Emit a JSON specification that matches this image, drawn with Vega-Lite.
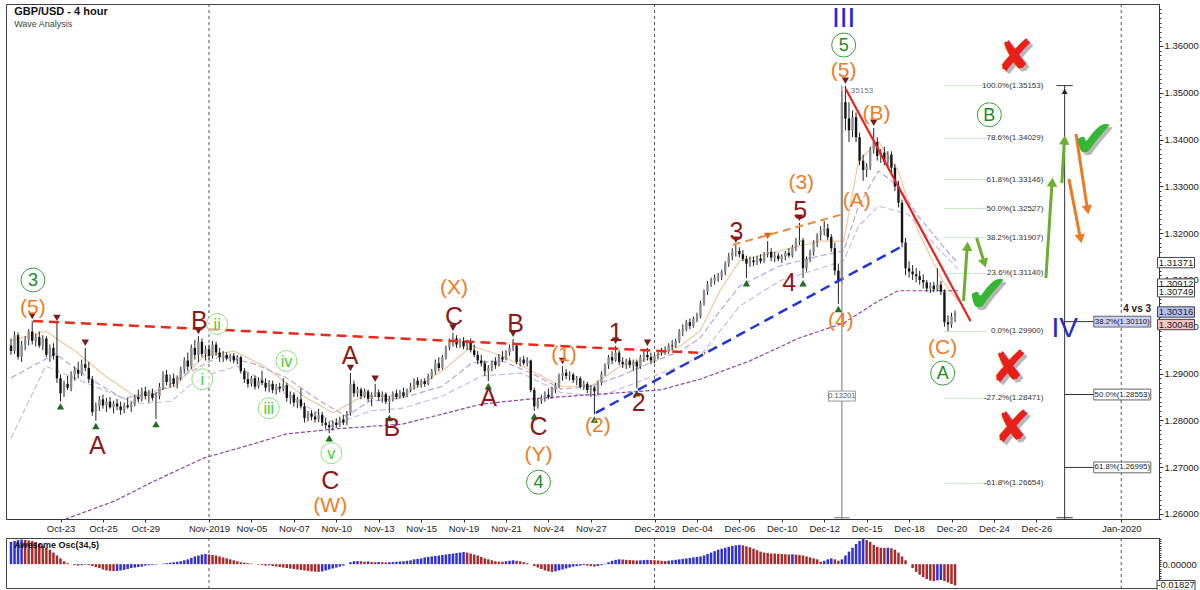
{
"$schema":"https://vega.github.io/schema/vega-lite/v6.json",
"background":"white",
"padding":{"left":5,"top":3,"right":0,"bottom":0},
"spacing":0,
"config":{"view":{"stroke":"#444","strokeWidth":1},"axis":{"domainColor":"#333","tickColor":"#333","labelColor":"#222","labelFont":"Liberation Sans","labelFontSize":9.5},"text":{"font":"Liberation Sans"}},
"datasets":{
"k":[
{"i":0,"o":1.296,"h":1.2975,"l":1.294,"c":1.2948,"a":0.01909},
{"i":1,"o":1.2948,"h":1.299,"l":1.2942,"c":1.2982,"a":0.01992},
{"i":2,"o":1.2982,"h":1.2988,"l":1.293,"c":1.2936,"a":0.02075},
{"i":3,"o":1.2936,"h":1.297,"l":1.2925,"c":1.2962,"a":0.02117},
{"i":4,"o":1.2962,"h":1.298,"l":1.295,"c":1.2972,"a":0.02075},
{"i":5,"o":1.2972,"h":1.2995,"l":1.296,"c":1.299,"a":0.02034},
{"i":6,"o":1.299,"h":1.3012,"l":1.2962,"c":1.297,"a":0.01992},
{"i":7,"o":1.297,"h":1.2985,"l":1.2958,"c":1.2978,"a":0.01909},
{"i":8,"o":1.2978,"h":1.299,"l":1.2955,"c":1.296,"a":0.01743},
{"i":9,"o":1.296,"h":1.2982,"l":1.295,"c":1.2975,"a":0.01577},
{"i":10,"o":1.2975,"h":1.298,"l":1.2935,"c":1.294,"a":0.01411},
{"i":11,"o":1.294,"h":1.2962,"l":1.2925,"c":1.2955,"a":0.01245},
{"i":12,"o":1.2955,"h":1.2965,"l":1.293,"c":1.2938,"a":0.00996},
{"i":13,"o":1.2938,"h":1.3008,"l":1.288,"c":1.289,"a":0.00747},
{"i":14,"o":1.289,"h":1.2898,"l":1.2841,"c":1.2858,"a":0.00498},
{"i":15,"o":1.2858,"h":1.2885,"l":1.285,"c":1.2878,"a":0.00249},
{"i":16,"o":1.2878,"h":1.2895,"l":1.2865,"c":1.287,"a":0.00083},
{"i":17,"o":1.287,"h":1.2905,"l":1.2862,"c":1.2898,"a":0},
{"i":18,"o":1.2898,"h":1.2915,"l":1.2885,"c":1.2908,"a":-0.00083},
{"i":19,"o":1.2908,"h":1.2925,"l":1.289,"c":1.29,"a":-0.00125},
{"i":20,"o":1.29,"h":1.293,"l":1.2895,"c":1.292,"a":-0.00083},
{"i":21,"o":1.292,"h":1.2955,"l":1.2905,"c":1.2912,"a":-0.00042},
{"i":22,"o":1.2912,"h":1.2925,"l":1.288,"c":1.2888,"a":-0.00083},
{"i":23,"o":1.2888,"h":1.2895,"l":1.281,"c":1.2818,"a":-0.00166},
{"i":24,"o":1.2818,"h":1.2838,"l":1.2799,"c":1.283,"a":-0.00249},
{"i":25,"o":1.283,"h":1.2852,"l":1.282,"c":1.2845,"a":-0.00332},
{"i":26,"o":1.2845,"h":1.2855,"l":1.2825,"c":1.2832,"a":-0.00457},
{"i":27,"o":1.2832,"h":1.2848,"l":1.2818,"c":1.284,"a":-0.0054},
{"i":28,"o":1.284,"h":1.285,"l":1.2825,"c":1.2828,"a":-0.00581},
{"i":29,"o":1.2828,"h":1.2842,"l":1.2815,"c":1.2836,"a":-0.00598},
{"i":30,"o":1.2836,"h":1.2846,"l":1.2822,"c":1.283,"a":-0.00581},
{"i":31,"o":1.283,"h":1.284,"l":1.2812,"c":1.2822,"a":-0.0054},
{"i":32,"o":1.2822,"h":1.2838,"l":1.2815,"c":1.2832,"a":-0.00498},
{"i":33,"o":1.2832,"h":1.2848,"l":1.2825,"c":1.2828,"a":-0.00415},
{"i":34,"o":1.2828,"h":1.284,"l":1.2818,"c":1.2835,"a":-0.00332},
{"i":35,"o":1.2835,"h":1.2855,"l":1.283,"c":1.285,"a":-0.00291},
{"i":36,"o":1.285,"h":1.2866,"l":1.2838,"c":1.2845,"a":-0.00249},
{"i":37,"o":1.2845,"h":1.287,"l":1.284,"c":1.2862,"a":-0.00208},
{"i":38,"o":1.2862,"h":1.2872,"l":1.2845,"c":1.2852,"a":-0.00125},
{"i":39,"o":1.2852,"h":1.2865,"l":1.2838,"c":1.2858,"a":-0.00083},
{"i":40,"o":1.2858,"h":1.2868,"l":1.2842,"c":1.2848,"a":-0.00066},
{"i":41,"o":1.2848,"h":1.286,"l":1.2803,"c":1.2852,"a":-0.00042},
{"i":42,"o":1.2852,"h":1.288,"l":1.2845,"c":1.2872,"a":0},
{"i":43,"o":1.2872,"h":1.2905,"l":1.2865,"c":1.2898,"a":0.00042},
{"i":44,"o":1.2898,"h":1.2908,"l":1.2875,"c":1.2882,"a":0.00083},
{"i":45,"o":1.2882,"h":1.2898,"l":1.287,"c":1.289,"a":0.00125},
{"i":46,"o":1.289,"h":1.29,"l":1.2872,"c":1.2878,"a":0.00166},
{"i":47,"o":1.2878,"h":1.2896,"l":1.2868,"c":1.2892,"a":0.00208},
{"i":48,"o":1.2892,"h":1.2915,"l":1.2885,"c":1.291,"a":0.00249},
{"i":49,"o":1.291,"h":1.2935,"l":1.29,"c":1.2928,"a":0.00332},
{"i":50,"o":1.2928,"h":1.2945,"l":1.2905,"c":1.2915,"a":0.00415},
{"i":51,"o":1.2915,"h":1.2962,"l":1.291,"c":1.2955,"a":0.0054},
{"i":52,"o":1.2955,"h":1.2972,"l":1.293,"c":1.294,"a":0.00664},
{"i":53,"o":1.294,"h":1.298,"l":1.2925,"c":1.2968,"a":0.00747},
{"i":54,"o":1.2968,"h":1.2975,"l":1.2935,"c":1.2942,"a":0.0083},
{"i":55,"o":1.2942,"h":1.296,"l":1.2928,"c":1.2952,"a":0.00872},
{"i":56,"o":1.2952,"h":1.2962,"l":1.293,"c":1.2938,"a":0.0083},
{"i":57,"o":1.2938,"h":1.297,"l":1.2932,"c":1.2962,"a":0.00789},
{"i":58,"o":1.2962,"h":1.2968,"l":1.2938,"c":1.2945,"a":0.00747},
{"i":59,"o":1.2945,"h":1.2955,"l":1.2925,"c":1.2935,"a":0.00664},
{"i":60,"o":1.2935,"h":1.2948,"l":1.2925,"c":1.294,"a":0.00581},
{"i":61,"o":1.294,"h":1.2945,"l":1.2928,"c":1.2932,"a":0.00498},
{"i":62,"o":1.2932,"h":1.2942,"l":1.2925,"c":1.2938,"a":0.00415},
{"i":63,"o":1.2938,"h":1.2944,"l":1.2922,"c":1.2928,"a":0.00332},
{"i":64,"o":1.2928,"h":1.294,"l":1.292,"c":1.2935,"a":0.00249},
{"i":65,"o":1.2935,"h":1.2938,"l":1.29,"c":1.2905,"a":0.00166},
{"i":66,"o":1.2905,"h":1.2912,"l":1.288,"c":1.2888,"a":0.00125},
{"i":67,"o":1.2888,"h":1.2902,"l":1.287,"c":1.2878,"a":0.00083},
{"i":68,"o":1.2878,"h":1.2895,"l":1.2872,"c":1.289,"a":0.00042},
{"i":69,"o":1.289,"h":1.2896,"l":1.2866,"c":1.2872,"a":0},
{"i":70,"o":1.2872,"h":1.2892,"l":1.2868,"c":1.2885,"a":-0.00042},
{"i":71,"o":1.2885,"h":1.2906,"l":1.2875,"c":1.288,"a":-0.00083},
{"i":72,"o":1.288,"h":1.289,"l":1.2862,"c":1.287,"a":-0.00125},
{"i":73,"o":1.287,"h":1.2886,"l":1.286,"c":1.2878,"a":-0.001},
{"i":74,"o":1.2878,"h":1.2885,"l":1.2858,"c":1.2865,"a":-0.00166},
{"i":75,"o":1.2865,"h":1.2878,"l":1.2855,"c":1.2872,"a":-0.00208},
{"i":76,"o":1.2872,"h":1.288,"l":1.286,"c":1.2868,"a":-0.00249},
{"i":77,"o":1.2868,"h":1.289,"l":1.2862,"c":1.2875,"a":-0.00291},
{"i":78,"o":1.2875,"h":1.288,"l":1.284,"c":1.2848,"a":-0.00332},
{"i":79,"o":1.2848,"h":1.2862,"l":1.2835,"c":1.2855,"a":-0.00374},
{"i":80,"o":1.2855,"h":1.286,"l":1.283,"c":1.2838,"a":-0.00415},
{"i":81,"o":1.2838,"h":1.285,"l":1.2826,"c":1.2845,"a":-0.00457},
{"i":82,"o":1.2845,"h":1.2868,"l":1.2825,"c":1.283,"a":-0.00498},
{"i":83,"o":1.283,"h":1.2838,"l":1.2795,"c":1.2805,"a":-0.0054},
{"i":84,"o":1.2805,"h":1.282,"l":1.2798,"c":1.2815,"a":-0.00581},
{"i":85,"o":1.2815,"h":1.2822,"l":1.28,"c":1.2808,"a":-0.00623},
{"i":86,"o":1.2808,"h":1.2818,"l":1.2795,"c":1.2802,"a":-0.00647},
{"i":87,"o":1.2802,"h":1.2825,"l":1.2796,"c":1.2812,"a":-0.00664},
{"i":88,"o":1.2812,"h":1.2818,"l":1.2788,"c":1.2795,"a":-0.00623},
{"i":89,"o":1.2795,"h":1.2805,"l":1.2782,"c":1.279,"a":-0.0054},
{"i":90,"o":1.279,"h":1.2798,"l":1.2773,"c":1.2785,"a":-0.00457},
{"i":91,"o":1.2785,"h":1.28,"l":1.2778,"c":1.2795,"a":-0.00374},
{"i":92,"o":1.2795,"h":1.2805,"l":1.2784,"c":1.279,"a":-0.00291},
{"i":93,"o":1.279,"h":1.2808,"l":1.2786,"c":1.2802,"a":-0.00208},
{"i":94,"o":1.2802,"h":1.2812,"l":1.279,"c":1.2795,"a":-0.00125},
{"i":95,"o":1.2795,"h":1.282,"l":1.279,"c":1.2815,"a":0},
{"i":96,"o":1.2815,"h":1.2901,"l":1.281,"c":1.2878,"a":0.00166},
{"i":97,"o":1.2878,"h":1.2885,"l":1.285,"c":1.2858,"a":0.00249},
{"i":98,"o":1.2858,"h":1.2872,"l":1.285,"c":1.2866,"a":0.00266},
{"i":99,"o":1.2866,"h":1.287,"l":1.2845,"c":1.2852,"a":0.00249},
{"i":100,"o":1.2852,"h":1.2868,"l":1.2848,"c":1.2862,"a":0.00208},
{"i":101,"o":1.2862,"h":1.2866,"l":1.284,"c":1.2846,"a":0.00232},
{"i":102,"o":1.2846,"h":1.286,"l":1.283,"c":1.2855,"a":0.00183},
{"i":103,"o":1.2855,"h":1.2878,"l":1.285,"c":1.286,"a":0.00166},
{"i":104,"o":1.286,"h":1.2866,"l":1.2842,"c":1.285,"a":0.00191},
{"i":105,"o":1.285,"h":1.2862,"l":1.2838,"c":1.2856,"a":0.00166},
{"i":106,"o":1.2856,"h":1.286,"l":1.2835,"c":1.284,"a":0.00149},
{"i":107,"o":1.284,"h":1.2852,"l":1.2816,"c":1.2845,"a":0.00166},
{"i":108,"o":1.2845,"h":1.2862,"l":1.284,"c":1.2858,"a":0.00183},
{"i":109,"o":1.2858,"h":1.2866,"l":1.2845,"c":1.285,"a":0.00208},
{"i":110,"o":1.285,"h":1.2865,"l":1.2846,"c":1.286,"a":0.00232},
{"i":111,"o":1.286,"h":1.287,"l":1.2848,"c":1.2852,"a":0.00249},
{"i":112,"o":1.2852,"h":1.2868,"l":1.285,"c":1.2865,"a":0.00291},
{"i":113,"o":1.2865,"h":1.288,"l":1.286,"c":1.2872,"a":0.00332},
{"i":114,"o":1.2872,"h":1.289,"l":1.2866,"c":1.2885,"a":0.00415},
{"i":115,"o":1.2885,"h":1.2892,"l":1.287,"c":1.2876,"a":0.00457},
{"i":116,"o":1.2876,"h":1.2888,"l":1.287,"c":1.2884,"a":0.00498},
{"i":117,"o":1.2884,"h":1.289,"l":1.2872,"c":1.2878,"a":0.00581},
{"i":118,"o":1.2878,"h":1.29,"l":1.2875,"c":1.2895,"a":0.00623},
{"i":119,"o":1.2895,"h":1.291,"l":1.2888,"c":1.2905,"a":0.00664},
{"i":120,"o":1.2905,"h":1.293,"l":1.2898,"c":1.2922,"a":0.00706},
{"i":121,"o":1.2922,"h":1.2935,"l":1.2905,"c":1.2912,"a":0.00747},
{"i":122,"o":1.2912,"h":1.294,"l":1.2908,"c":1.2935,"a":0.00789},
{"i":123,"o":1.2935,"h":1.296,"l":1.293,"c":1.2955,"a":0.0083},
{"i":124,"o":1.2955,"h":1.2975,"l":1.295,"c":1.2968,"a":0.00872},
{"i":125,"o":1.2968,"h":1.2987,"l":1.2958,"c":1.2975,"a":0.00913},
{"i":126,"o":1.2975,"h":1.2982,"l":1.2955,"c":1.2962,"a":0.00955},
{"i":127,"o":1.2962,"h":1.2975,"l":1.2955,"c":1.297,"a":0.00996},
{"i":128,"o":1.297,"h":1.2978,"l":1.2952,"c":1.2958,"a":0.01038},
{"i":129,"o":1.2958,"h":1.2972,"l":1.295,"c":1.2966,"a":0.00996},
{"i":130,"o":1.2966,"h":1.2975,"l":1.2945,"c":1.295,"a":0.00913},
{"i":131,"o":1.295,"h":1.2962,"l":1.2935,"c":1.294,"a":0.0083},
{"i":132,"o":1.294,"h":1.2948,"l":1.292,"c":1.2928,"a":0.00747},
{"i":133,"o":1.2928,"h":1.294,"l":1.2915,"c":1.2922,"a":0.00623},
{"i":134,"o":1.2922,"h":1.2928,"l":1.2895,"c":1.2905,"a":0.00498},
{"i":135,"o":1.2905,"h":1.2918,"l":1.2884,"c":1.2912,"a":0.00415},
{"i":136,"o":1.2912,"h":1.2928,"l":1.2905,"c":1.2925,"a":0.00332},
{"i":137,"o":1.2925,"h":1.2935,"l":1.291,"c":1.2918,"a":0.00249},
{"i":138,"o":1.2918,"h":1.2942,"l":1.2915,"c":1.2935,"a":0.00208},
{"i":139,"o":1.2935,"h":1.2948,"l":1.2925,"c":1.293,"a":0.00208},
{"i":140,"o":1.293,"h":1.295,"l":1.2928,"c":1.2945,"a":0.00249},
{"i":141,"o":1.2945,"h":1.2962,"l":1.2938,"c":1.2955,"a":0.00291},
{"i":142,"o":1.2955,"h":1.2974,"l":1.2948,"c":1.296,"a":0.00332},
{"i":143,"o":1.296,"h":1.2965,"l":1.292,"c":1.2925,"a":0.00291},
{"i":144,"o":1.2925,"h":1.2935,"l":1.2915,"c":1.293,"a":0.00249},
{"i":145,"o":1.293,"h":1.2938,"l":1.2918,"c":1.2922,"a":0.00166},
{"i":146,"o":1.2922,"h":1.2935,"l":1.2915,"c":1.2928,"a":0.00083},
{"i":147,"o":1.2928,"h":1.293,"l":1.286,"c":1.2865,"a":0},
{"i":148,"o":1.2865,"h":1.287,"l":1.282,"c":1.283,"a":-0.00166},
{"i":149,"o":1.283,"h":1.2848,"l":1.2825,"c":1.2842,"a":-0.00291},
{"i":150,"o":1.2842,"h":1.2855,"l":1.2835,"c":1.2848,"a":-0.00415},
{"i":151,"o":1.2848,"h":1.2862,"l":1.284,"c":1.2855,"a":-0.0054},
{"i":152,"o":1.2855,"h":1.2868,"l":1.2845,"c":1.285,"a":-0.00623},
{"i":153,"o":1.285,"h":1.2872,"l":1.2846,"c":1.2866,"a":-0.00664},
{"i":154,"o":1.2866,"h":1.288,"l":1.2858,"c":1.2875,"a":-0.00623},
{"i":155,"o":1.2875,"h":1.29,"l":1.287,"c":1.2895,"a":-0.0054},
{"i":156,"o":1.2895,"h":1.2916,"l":1.2885,"c":1.2902,"a":-0.00457},
{"i":157,"o":1.2902,"h":1.291,"l":1.2888,"c":1.2895,"a":-0.00374},
{"i":158,"o":1.2895,"h":1.2905,"l":1.2885,"c":1.2898,"a":-0.00291},
{"i":159,"o":1.2898,"h":1.2902,"l":1.288,"c":1.2886,"a":-0.00208},
{"i":160,"o":1.2886,"h":1.2895,"l":1.2875,"c":1.289,"a":-0.00166},
{"i":161,"o":1.289,"h":1.2894,"l":1.2868,"c":1.2872,"a":-0.00125},
{"i":162,"o":1.2872,"h":1.2885,"l":1.2865,"c":1.2878,"a":-0.00083},
{"i":163,"o":1.2878,"h":1.2882,"l":1.2858,"c":1.2865,"a":-0.00125},
{"i":164,"o":1.2865,"h":1.2876,"l":1.285,"c":1.287,"a":-0.00166},
{"i":165,"o":1.287,"h":1.2874,"l":1.2813,"c":1.2862,"a":-0.00208},
{"i":166,"o":1.2862,"h":1.2885,"l":1.2855,"c":1.288,"a":-0.00166},
{"i":167,"o":1.288,"h":1.2905,"l":1.2875,"c":1.29,"a":-0.00083},
{"i":168,"o":1.29,"h":1.2922,"l":1.2895,"c":1.2918,"a":0.00042},
{"i":169,"o":1.2918,"h":1.294,"l":1.291,"c":1.2935,"a":0.00166},
{"i":170,"o":1.2935,"h":1.2948,"l":1.292,"c":1.2928,"a":0.00291},
{"i":171,"o":1.2928,"h":1.2959,"l":1.2925,"c":1.2945,"a":0.00374},
{"i":172,"o":1.2945,"h":1.295,"l":1.2918,"c":1.2925,"a":0.00415},
{"i":173,"o":1.2925,"h":1.2935,"l":1.2912,"c":1.292,"a":0.00398},
{"i":174,"o":1.292,"h":1.2932,"l":1.291,"c":1.2928,"a":0.00374},
{"i":175,"o":1.2928,"h":1.2934,"l":1.2912,"c":1.2918,"a":0.00349},
{"i":176,"o":1.2918,"h":1.293,"l":1.2905,"c":1.2925,"a":0.00332},
{"i":177,"o":1.2925,"h":1.293,"l":1.2869,"c":1.2915,"a":0.00315},
{"i":178,"o":1.2915,"h":1.294,"l":1.291,"c":1.2935,"a":0.00332},
{"i":179,"o":1.2935,"h":1.295,"l":1.2925,"c":1.294,"a":0.00349},
{"i":180,"o":1.294,"h":1.2955,"l":1.2928,"c":1.2935,"a":0.00374},
{"i":181,"o":1.2935,"h":1.2945,"l":1.292,"c":1.2928,"a":0.00357},
{"i":182,"o":1.2928,"h":1.2942,"l":1.2922,"c":1.2938,"a":0.0034},
{"i":183,"o":1.2938,"h":1.2948,"l":1.293,"c":1.2944,"a":0.00315},
{"i":184,"o":1.2944,"h":1.2955,"l":1.2938,"c":1.295,"a":0.00291},
{"i":185,"o":1.295,"h":1.2958,"l":1.294,"c":1.2946,"a":0.00274},
{"i":186,"o":1.2946,"h":1.2965,"l":1.2942,"c":1.296,"a":0.00299},
{"i":187,"o":1.296,"h":1.2972,"l":1.295,"c":1.2958,"a":0.00332},
{"i":188,"o":1.2958,"h":1.2975,"l":1.2955,"c":1.297,"a":0.00374},
{"i":189,"o":1.297,"h":1.2995,"l":1.2965,"c":1.299,"a":0.00415},
{"i":190,"o":1.299,"h":1.3005,"l":1.298,"c":1.2995,"a":0.00457},
{"i":191,"o":1.2995,"h":1.3015,"l":1.299,"c":1.301,"a":0.00498},
{"i":192,"o":1.301,"h":1.3018,"l":1.2995,"c":1.3002,"a":0.0054},
{"i":193,"o":1.3002,"h":1.3022,"l":1.2998,"c":1.3018,"a":0.00581},
{"i":194,"o":1.3018,"h":1.303,"l":1.301,"c":1.3022,"a":0.00623},
{"i":195,"o":1.3022,"h":1.3055,"l":1.3018,"c":1.305,"a":0.00664},
{"i":196,"o":1.305,"h":1.308,"l":1.3045,"c":1.3075,"a":0.00747},
{"i":197,"o":1.3075,"h":1.3098,"l":1.3068,"c":1.3092,"a":0.00872},
{"i":198,"o":1.3092,"h":1.3105,"l":1.3085,"c":1.3098,"a":0.00996},
{"i":199,"o":1.3098,"h":1.3112,"l":1.309,"c":1.3105,"a":0.01121},
{"i":200,"o":1.3105,"h":1.3115,"l":1.3096,"c":1.3108,"a":0.01245},
{"i":201,"o":1.3108,"h":1.3122,"l":1.31,"c":1.3118,"a":0.01328},
{"i":202,"o":1.3118,"h":1.314,"l":1.311,"c":1.3135,"a":0.01411},
{"i":203,"o":1.3135,"h":1.3158,"l":1.3128,"c":1.315,"a":0.01494},
{"i":204,"o":1.315,"h":1.3168,"l":1.3142,"c":1.316,"a":0.01577},
{"i":205,"o":1.316,"h":1.3175,"l":1.315,"c":1.3162,"a":0.01619},
{"i":206,"o":1.3162,"h":1.317,"l":1.3148,"c":1.3155,"a":0.0166},
{"i":207,"o":1.3155,"h":1.3164,"l":1.314,"c":1.3145,"a":0.01619},
{"i":208,"o":1.3145,"h":1.3152,"l":1.3104,"c":1.3135,"a":0.01536},
{"i":209,"o":1.3135,"h":1.315,"l":1.3128,"c":1.3142,"a":0.01453},
{"i":210,"o":1.3142,"h":1.315,"l":1.313,"c":1.3138,"a":0.01328},
{"i":211,"o":1.3138,"h":1.3152,"l":1.3132,"c":1.3146,"a":0.01204},
{"i":212,"o":1.3146,"h":1.3155,"l":1.3135,"c":1.314,"a":0.01079},
{"i":213,"o":1.314,"h":1.316,"l":1.3136,"c":1.3155,"a":0.00996},
{"i":214,"o":1.3155,"h":1.3183,"l":1.3148,"c":1.316,"a":0.00955},
{"i":215,"o":1.316,"h":1.3168,"l":1.314,"c":1.3148,"a":0.00913},
{"i":216,"o":1.3148,"h":1.316,"l":1.3138,"c":1.3152,"a":0.00913},
{"i":217,"o":1.3152,"h":1.3158,"l":1.314,"c":1.3145,"a":0.00896},
{"i":218,"o":1.3145,"h":1.3155,"l":1.3136,"c":1.315,"a":0.00872},
{"i":219,"o":1.315,"h":1.3162,"l":1.3142,"c":1.3158,"a":0.00855},
{"i":220,"o":1.3158,"h":1.3168,"l":1.3148,"c":1.3152,"a":0.0083},
{"i":221,"o":1.3152,"h":1.3175,"l":1.3148,"c":1.317,"a":0.00847},
{"i":222,"o":1.317,"h":1.319,"l":1.3162,"c":1.3182,"a":0.00813},
{"i":223,"o":1.3182,"h":1.3222,"l":1.3175,"c":1.3185,"a":0.00789},
{"i":224,"o":1.3185,"h":1.319,"l":1.3104,"c":1.3125,"a":0.00747},
{"i":225,"o":1.3125,"h":1.315,"l":1.3118,"c":1.3145,"a":0.00664},
{"i":226,"o":1.3145,"h":1.3165,"l":1.3138,"c":1.316,"a":0.00581},
{"i":227,"o":1.316,"h":1.3185,"l":1.3152,"c":1.318,"a":0.00498},
{"i":228,"o":1.318,"h":1.32,"l":1.317,"c":1.3195,"a":0.00415},
{"i":229,"o":1.3195,"h":1.3215,"l":1.3185,"c":1.3205,"a":0.00208},
{"i":230,"o":1.3205,"h":1.3226,"l":1.3195,"c":1.321,"a":0.00291},
{"i":231,"o":1.321,"h":1.322,"l":1.3185,"c":1.3192,"a":0.00415},
{"i":232,"o":1.3192,"h":1.3198,"l":1.316,"c":1.3168,"a":0.00498},
{"i":233,"o":1.3168,"h":1.318,"l":1.311,"c":1.312,"a":0.00415},
{"i":234,"o":1.312,"h":1.3135,"l":1.3049,"c":1.31,"a":0.00291},
{"i":235,"o":1.31,"h":1.3504,"l":1.3095,"c":1.348,"a":0.00415},
{"i":236,"o":1.348,"h":1.3515,"l":1.342,"c":1.3445,"a":0.00747},
{"i":237,"o":1.3445,"h":1.348,"l":1.3395,"c":1.342,"a":0.01079},
{"i":238,"o":1.342,"h":1.3462,"l":1.3405,"c":1.3448,"a":0.01411},
{"i":239,"o":1.3448,"h":1.3458,"l":1.3395,"c":1.3405,"a":0.01743},
{"i":240,"o":1.3405,"h":1.3415,"l":1.3345,"c":1.3355,"a":0.01992},
{"i":241,"o":1.3355,"h":1.3368,"l":1.3312,"c":1.3335,"a":0.02158},
{"i":242,"o":1.3335,"h":1.335,"l":1.332,"c":1.3342,"a":0.02075},
{"i":243,"o":1.3342,"h":1.3385,"l":1.3335,"c":1.3378,"a":0.01909},
{"i":244,"o":1.3378,"h":1.3425,"l":1.337,"c":1.3395,"a":0.0166},
{"i":245,"o":1.3395,"h":1.3405,"l":1.3355,"c":1.3365,"a":0.01494},
{"i":246,"o":1.3365,"h":1.338,"l":1.335,"c":1.3372,"a":0.01411},
{"i":247,"o":1.3372,"h":1.3385,"l":1.3345,"c":1.3352,"a":0.01394},
{"i":248,"o":1.3352,"h":1.3375,"l":1.334,"c":1.3368,"a":0.01411},
{"i":249,"o":1.3368,"h":1.3375,"l":1.333,"c":1.334,"a":0.0137},
{"i":250,"o":1.334,"h":1.3348,"l":1.329,"c":1.33,"a":0.01245},
{"i":251,"o":1.33,"h":1.3312,"l":1.3255,"c":1.3265,"a":0.00996},
{"i":252,"o":1.3265,"h":1.3272,"l":1.317,"c":1.318,"a":0.00664},
{"i":253,"o":1.318,"h":1.319,"l":1.311,"c":1.3125,"a":0.00332},
{"i":254,"o":1.3125,"h":1.314,"l":1.3105,"c":1.3118,"a":0},
{"i":255,"o":1.3118,"h":1.3132,"l":1.31,"c":1.3112,"a":-0.00332},
{"i":256,"o":1.3112,"h":1.3125,"l":1.3095,"c":1.3108,"a":-0.00664},
{"i":257,"o":1.3108,"h":1.312,"l":1.309,"c":1.31,"a":-0.00913},
{"i":258,"o":1.31,"h":1.3112,"l":1.3082,"c":1.3095,"a":-0.01121},
{"i":259,"o":1.3095,"h":1.31,"l":1.3075,"c":1.3082,"a":-0.01287},
{"i":260,"o":1.3082,"h":1.3095,"l":1.3072,"c":1.3088,"a":-0.01411},
{"i":261,"o":1.3088,"h":1.3096,"l":1.3074,"c":1.308,"a":-0.01453},
{"i":262,"o":1.308,"h":1.3125,"l":1.3076,"c":1.309,"a":-0.01394},
{"i":263,"o":1.309,"h":1.3098,"l":1.3068,"c":1.3075,"a":-0.0137},
{"i":264,"o":1.3075,"h":1.308,"l":1.3,"c":1.301,"a":-0.01453},
{"i":265,"o":1.301,"h":1.3025,"l":1.299,"c":1.3005,"a":-0.01577},
{"i":266,"o":1.3005,"h":1.303,"l":1.2998,"c":1.3022,"a":-0.01702},
{"i":267,"o":1.3022,"h":1.3035,"l":1.301,"c":1.303,"a":-0.01827}
],
"ma":[
{"s":"f","i":0,"p":1.297},{"s":"f","i":9.8,"p":1.2991},{"s":"f","i":18.2,"p":1.2948},{"s":"f","i":26.6,"p":1.2895},{"s":"f","i":35,"p":1.2852},{"s":"f","i":46.3,"p":1.2873},{"s":"f","i":54.7,"p":1.2938},{"s":"f","i":63.1,"p":1.2948},{"s":"f","i":71.5,"p":1.2916},{"s":"f","i":82.7,"p":1.2852},{"s":"f","i":91.1,"p":1.2816},{"s":"f","i":99.5,"p":1.2852},{"s":"f","i":110.7,"p":1.2852},{"s":"f","i":122,"p":1.2906},{"s":"f","i":130.4,"p":1.2959},{"s":"f","i":138.8,"p":1.2938},{"s":"f","i":147.2,"p":1.2906},{"s":"f","i":155.6,"p":1.2873},{"s":"f","i":164,"p":1.2873},{"s":"f","i":172.4,"p":1.2916},{"s":"f","i":180.8,"p":1.2933},{"s":"f","i":189.3,"p":1.2959},{"s":"f","i":194.9,"p":1.2991},{"s":"f","i":200.5,"p":1.3077},{"s":"f","i":206.1,"p":1.3141},{"s":"f","i":217.3,"p":1.3162},{"s":"f","i":228.5,"p":1.3183},{"s":"f","i":235.5,"p":1.3183},{"s":"f","i":239.7,"p":1.3354},{"s":"f","i":245.3,"p":1.3397},{"s":"f","i":250.9,"p":1.3333},{"s":"f","i":256.5,"p":1.3205},{"s":"f","i":263.5,"p":1.3098},{"s":"f","i":267.8,"p":1.3055},
{"s":"m","i":0,"p":1.2891},{"s":"m","i":12.6,"p":1.2942},{"s":"m","i":21.9,"p":1.2891},{"s":"m","i":31.4,"p":1.2848},{"s":"m","i":40.7,"p":1.2856},{"s":"m","i":49.9,"p":1.2901},{"s":"m","i":59.4,"p":1.2938},{"s":"m","i":68.7,"p":1.2921},{"s":"m","i":77.9,"p":1.2891},{"s":"m","i":87.5,"p":1.2841},{"s":"m","i":94.8,"p":1.2809},{"s":"m","i":101.5,"p":1.2841},{"s":"m","i":110.7,"p":1.2848},{"s":"m","i":122,"p":1.2873},{"s":"m","i":130.4,"p":1.2923},{"s":"m","i":138.8,"p":1.2927},{"s":"m","i":147.2,"p":1.2901},{"s":"m","i":155.6,"p":1.2867},{"s":"m","i":164,"p":1.2873},{"s":"m","i":172.4,"p":1.2895},{"s":"m","i":180.8,"p":1.2923},{"s":"m","i":189.3,"p":1.2948},{"s":"m","i":194.9,"p":1.2976},{"s":"m","i":200.5,"p":1.3034},{"s":"m","i":206.1,"p":1.3087},{"s":"m","i":217.3,"p":1.313},{"s":"m","i":228.5,"p":1.3151},{"s":"m","i":235.5,"p":1.3162},{"s":"m","i":239.7,"p":1.3258},{"s":"m","i":245.3,"p":1.3333},{"s":"m","i":250.9,"p":1.3301},{"s":"m","i":256.5,"p":1.3237},{"s":"m","i":263.5,"p":1.3173},{"s":"m","i":267.8,"p":1.3136},
{"s":"l","i":0,"p":1.2762},{"s":"l","i":9.8,"p":1.2916},{"s":"l","i":21.9,"p":1.2878},{"s":"l","i":35.9,"p":1.2835},{"s":"l","i":45.4,"p":1.2841},{"s":"l","i":51,"p":1.2878},{"s":"l","i":56.6,"p":1.2899},{"s":"l","i":63.9,"p":1.2916},{"s":"l","i":77.9,"p":1.2856},{"s":"l","i":92,"p":1.2792},{"s":"l","i":101.5,"p":1.282},{"s":"l","i":110.7,"p":1.2826},{"s":"l","i":122,"p":1.2852},{"s":"l","i":133.2,"p":1.2895},{"s":"l","i":144.4,"p":1.2901},{"s":"l","i":155.6,"p":1.2859},{"s":"l","i":166.8,"p":1.2852},{"s":"l","i":178,"p":1.2884},{"s":"l","i":189.3,"p":1.2916},{"s":"l","i":194.9,"p":1.2938},{"s":"l","i":200.5,"p":1.2991},{"s":"l","i":206.1,"p":1.3044},{"s":"l","i":217.3,"p":1.3098},{"s":"l","i":228.5,"p":1.3124},{"s":"l","i":235.5,"p":1.3141},{"s":"l","i":239.7,"p":1.3215},{"s":"l","i":245.3,"p":1.3258},{"s":"l","i":253.7,"p":1.3241},{"s":"l","i":262.1,"p":1.3168},{"s":"l","i":267.8,"p":1.3124},
{"s":"s","i":15.4,"p":1.2589},{"s":"s","i":29.4,"p":1.2628},{"s":"s","i":40.7,"p":1.2671},{"s":"s","i":54.7,"p":1.272},{"s":"s","i":68.7,"p":1.275},{"s":"s","i":77.9,"p":1.2771},{"s":"s","i":92,"p":1.2782},{"s":"s","i":110.7,"p":1.2792},{"s":"s","i":133.2,"p":1.2835},{"s":"s","i":147.2,"p":1.2846},{"s":"s","i":166,"p":1.2856},{"s":"s","i":183.6,"p":1.2865},{"s":"s","i":194.9,"p":1.2888},{"s":"s","i":208.9,"p":1.2927},{"s":"s","i":222.9,"p":1.2976},{"s":"s","i":235.5,"p":1.3008},{"s":"s","i":245.3,"p":1.3055},{"s":"s","i":250.9,"p":1.3077},{"s":"s","i":267.8,"p":1.3077}
],
"sg":[
{"g":"rd","i":6.2,"p":1.30124,"i2":196.3,"p2":1.2944},
{"g":"bd","i":165.4,"p":1.2816,"i2":253.2,"p2":1.3177},
{"g":"od","i":204.1,"p":1.3175,"i2":235.5,"p2":1.3241},
{"g":"rs","i":236.1,"p":1.3508,"i2":271.4,"p2":1.3012},
{"g":"gv","i":235,"p":1.35153,"i2":235,"p2":1.25893},
{"g":"gv","i":232.8,"p":1.2592,"i2":237.2,"p2":1.2592},
{"g":"fv","i":298,"p":1.35153,"i2":298,"p2":1.25893},
{"g":"fv","i":295.7,"p":1.35153,"i2":300.3,"p2":1.35153},
{"g":"fv","i":295.7,"p":1.2592,"i2":300.3,"p2":1.2592},
{"g":"fv","i":298,"p":1.3011,"i2":307,"p2":1.3011},
{"g":"fv","i":298,"p":1.28553,"i2":307,"p2":1.28553},
{"g":"fv","i":298,"p":1.26995,"i2":307,"p2":1.26995},
{"g":"fl","i":263.8,"p":1.35153,"i2":276,"p2":1.35153},
{"g":"fl","i":263.8,"p":1.34029,"i2":276,"p2":1.34029},
{"g":"fl","i":263.8,"p":1.33146,"i2":276,"p2":1.33146},
{"g":"fl","i":263.8,"p":1.32527,"i2":276,"p2":1.32527},
{"g":"fl","i":263.8,"p":1.31907,"i2":276,"p2":1.31907},
{"g":"fl","i":263.8,"p":1.3114,"i2":276,"p2":1.3114},
{"g":"fl","i":263.8,"p":1.299,"i2":276,"p2":1.299},
{"g":"fl","i":263.8,"p":1.28471,"i2":276,"p2":1.28471},
{"g":"fl","i":263.8,"p":1.26654,"i2":276,"p2":1.26654},
{"g":"ga","i":269.4,"p":1.3055,"i2":270.4,"p2":1.3168},
{"g":"ga","i":273.1,"p":1.319,"i2":275.2,"p2":1.3139},
{"g":"ga","i":292.7,"p":1.3104,"i2":294.4,"p2":1.3305},
{"g":"ga","i":297.2,"p":1.3307,"i2":297.9,"p2":1.3396},
{"g":"oa","i":301.2,"p":1.3412,"i2":304.4,"p2":1.3253},
{"g":"oa","i":299.2,"p":1.3316,"i2":302.4,"p2":1.3191}
],
"hd":[
{"g":"gu","i":270.5,"p":1.3172},{"g":"gu","i":294.5,"p":1.3309},{"g":"gu","i":297.95,"p":1.3399},
{"g":"gd","i":275.3,"p":1.3136},
{"g":"od","i":304.5,"p":1.325},{"g":"od","i":302.5,"p":1.3188},
{"g":"fv","i":298,"p":1.3503}
],
"tri":[
{"g":"dn","i":6,"p":1.3023},{"g":"dn","i":13,"p":1.3019},{"g":"dn","i":21,"p":1.2966},{"g":"dn","i":53,"p":1.2991},{"g":"dn","i":96,"p":1.2912},{"g":"dn","i":103,"p":1.2889},{"g":"dn","i":125,"p":1.2998},{"g":"dn","i":142,"p":1.2985},{"g":"dn","i":156,"p":1.2927},{"g":"dn","i":171,"p":1.297},{"g":"dn","i":180,"p":1.2966},{"g":"dn","i":205,"p":1.3186},{"g":"dn","i":223,"p":1.3233},{"g":"dn","i":236,"p":1.3526},{"g":"dn","i":244,"p":1.3436},
{"g":"do","i":214,"p":1.3194},
{"g":"up","i":14,"p":1.283},{"g":"up","i":24,"p":1.2788},{"g":"up","i":41,"p":1.2792},{"g":"up","i":90,"p":1.2762},{"g":"up","i":107,"p":1.2805},{"g":"up","i":135,"p":1.2873},{"g":"up","i":148,"p":1.2809},{"g":"up","i":165,"p":1.2802},{"g":"up","i":177,"p":1.2858},{"g":"up","i":208,"p":1.3093},{"g":"up","i":224,"p":1.3093},{"g":"up","i":234,"p":1.3038}
],
"an":[
{"g":"dr","i":24.4,"p":1.2745,"t":"A"},{"g":"dr","i":53.3,"p":1.3012,"t":"B"},{"g":"dr","i":95.9,"p":1.2938,"t":"A"},{"g":"dr","i":90.3,"p":1.267,"t":"C"},{"g":"dr","i":107.7,"p":1.2784,"t":"B"},{"g":"dr","i":125.3,"p":1.302,"t":"C"},{"g":"dr","i":135.1,"p":1.2848,"t":"A"},{"g":"dr","i":142.7,"p":1.3006,"t":"B"},{"g":"dr","i":149.2,"p":1.2786,"t":"C"},{"g":"dr","i":171,"p":1.2987,"t":"1"},{"g":"dr","i":177.5,"p":1.2837,"t":"2"},{"g":"dr","i":205.2,"p":1.3203,"t":"3"},{"g":"dr","i":223.2,"p":1.3248,"t":"5"},{"g":"dr","i":220.1,"p":1.3093,"t":"4"},
{"g":"or","i":6.2,"p":1.3041,"t":"(5)"},{"g":"or","i":125.3,"p":1.3083,"t":"(X)"},{"g":"or","i":90.3,"p":1.2617,"t":"(W)"},{"g":"or","i":149.2,"p":1.2726,"t":"(Y)"},{"g":"or","i":156.4,"p":1.294,"t":"(1)"},{"g":"or","i":166,"p":1.2788,"t":"(2)"},{"g":"or","i":223.5,"p":1.3307,"t":"(3)"},{"g":"or","i":234.7,"p":1.3012,"t":"(4)"},{"g":"or","i":235.5,"p":1.3547,"t":"(5)"},{"g":"or","i":239.2,"p":1.3269,"t":"(A)"},{"g":"or","i":244.8,"p":1.3455,"t":"(B)"},{"g":"or","i":263.5,"p":1.2955,"t":"(C)"},
{"g":"gc","i":6.2,"p":1.31,"t":"3"},{"g":"gc","i":149.2,"p":1.2668,"t":"4"},{"g":"gc","i":235.5,"p":1.3602,"t":"5"},{"g":"gc","i":263.5,"p":1.2901,"t":"A"},{"g":"gc","i":276.7,"p":1.3453,"t":"B"},
{"g":"lg","i":54.1,"p":1.2888,"t":"i"},{"g":"lg","i":58.3,"p":1.3006,"t":"ii"},{"g":"lg","i":72.9,"p":1.2826,"t":"iii"},{"g":"lg","i":77.9,"p":1.2927,"t":"iv"},{"g":"lg","i":90.6,"p":1.273,"t":"v"},
{"g":"bl","i":235.5,"p":1.3658,"t":"III"},{"g":"bl","i":298,"p":1.2995,"t":"IV"}
],
"fb":[
{"t":"100.0%(1.35153)","p":1.35153},{"t":"78.6%(1.34029)","p":1.34029},{"t":"61.8%(1.33146)","p":1.33146},{"t":"50.0%(1.32527)","p":1.32527},{"t":"38.2%(1.31907)","p":1.31907},{"t":"23.6%(1.31140)","p":1.3114},{"t":"0.0%(1.29900)","p":1.299},{"t":"-27.2%(1.28471)","p":1.28471},{"t":"-61.8%(1.26654)","p":1.26654}
],
"fr":[{"t":"38.2%(1.30110)","p":1.3011},{"t":"50.0%(1.28553)","p":1.28553},{"t":"61.8%(1.26995)","p":1.26995}],
"ax":[{"t":"1.31371","p":1.31371},{"t":"1.30912","p":1.30912},{"t":"1.30749","p":1.30749},{"t":"1.30316","p":1.30316},{"t":"1.30048","p":1.30048}],
"mk":[{"g":"ok","i":276.2,"p":1.3066},{"g":"ok","i":306.2,"p":1.3397},{"g":"no","i":284,"p":1.3574},{"g":"no","i":282.3,"p":1.291},{"g":"no","i":283.2,"p":1.2782}]
},
"vconcat":[
{
"width":1153,"height":515,
"layer":[
{"data":{"values":[{"i":56},{"i":182},{"i":314}]},"mark":{"type":"rule","color":"#555","strokeDash":[3,3],"strokeWidth":1},
 "encoding":{"x":{"field":"i","type":"quantitative","scale":{"domain":[0,323.27],"nice":false,"zero":false},
  "axis":{"title":null,"grid":false,"values":[14,26,38,56,68,80,92,104,116,128,140,152,164,182,194,206,218,230,242,254,266,278,290,314],
   "labelExpr":"['Oct-23','Oct-25','Oct-29','Nov-2019','Nov-05','Nov-07','Nov-10','Nov-13','Nov-15','Nov-19','Nov-21','Nov-24','Nov-27','Dec-2019','Dec-04','Dec-06','Dec-10','Dec-12','Dec-15','Dec-18','Dec-20','Dec-24','Dec-26','Jan-2020'][indexof([14,26,38,56,68,80,92,104,116,128,140,152,164,182,194,206,218,230,242,254,266,278,290,314],datum.value)]",
   "tickSize":3,"labelPadding":1,"labelFontSize":9.5,"labelOverlap":false}}}},
{"data":{"name":"ma"},"mark":{"type":"line","strokeWidth":1.2},
 "encoding":{"x":{"field":"i","type":"quantitative"},
  "y":{"field":"p","type":"quantitative","scale":{"domain":[1.25893,1.36897],"nice":false,"zero":false},
   "axis":{"title":null,"orient":"right","grid":false,"tickCount":110,"labelOverlap":false,"labelPadding":1,"labelFontSize":9.5,
    "labelExpr":"abs(datum.value*100-round(datum.value*100))<0.05 ? format(datum.value,'.5f') : ''",
    "tickSize":{"condition":{"test":"abs(datum.value*100-round(datum.value*100))<0.05","value":4},"value":2}}},
  "color":{"field":"s","type":"nominal","scale":{"domain":["f","m","l","s"],"range":["#f3c89a","#b9a3de","#cbb9e8","#8e44a8"]},"legend":null},
  "strokeDash":{"field":"s","type":"nominal","scale":{"domain":["f","m","l","s"],"range":[[1,0],[6,3],[6,3],[4,2]]},"legend":null}}},
{"data":{"name":"k"},"mark":{"type":"rule","color":"#222","strokeWidth":1},
 "encoding":{"x":{"field":"i","type":"quantitative"},"y":{"field":"l","type":"quantitative","title":null},"y2":{"field":"h"}}},
{"data":{"name":"k"},"mark":{"type":"bar","size":2.4},
 "encoding":{"x":{"field":"i","type":"quantitative"},"y":{"field":"o","type":"quantitative","title":null},"y2":{"field":"c"},
  "color":{"condition":{"test":"datum.c>=datum.o","value":"#8c8c8c"},"value":"#151515"}}},
{"data":{"name":"sg"},"transform":[{"filter":"datum.g=='fl'"}],"mark":{"type":"rule","color":"#c8ecc8","strokeWidth":1},
 "encoding":{"x":{"field":"i","type":"quantitative"},"x2":{"field":"i2"},"y":{"field":"p","type":"quantitative"},"y2":{"field":"p2"}}},
{"data":{"name":"sg"},"transform":[{"filter":"datum.g=='rd'"}],"mark":{"type":"rule","color":"#e8291c","strokeWidth":2.5,"strokeDash":[10,6]},
 "encoding":{"x":{"field":"i","type":"quantitative"},"x2":{"field":"i2"},"y":{"field":"p","type":"quantitative"},"y2":{"field":"p2"}}},
{"data":{"name":"sg"},"transform":[{"filter":"datum.g=='bd'"}],"mark":{"type":"rule","color":"#1f35d6","strokeWidth":2.5,"strokeDash":[10,6]},
 "encoding":{"x":{"field":"i","type":"quantitative"},"x2":{"field":"i2"},"y":{"field":"p","type":"quantitative"},"y2":{"field":"p2"}}},
{"data":{"name":"sg"},"transform":[{"filter":"datum.g=='od'"}],"mark":{"type":"rule","color":"#ee8a3a","strokeWidth":2,"strokeDash":[8,5]},
 "encoding":{"x":{"field":"i","type":"quantitative"},"x2":{"field":"i2"},"y":{"field":"p","type":"quantitative"},"y2":{"field":"p2"}}},
{"data":{"name":"sg"},"transform":[{"filter":"datum.g=='rs'"}],"mark":{"type":"rule","color":"#e8231d","strokeWidth":2.2},
 "encoding":{"x":{"field":"i","type":"quantitative"},"x2":{"field":"i2"},"y":{"field":"p","type":"quantitative"},"y2":{"field":"p2"}}},
{"data":{"name":"sg"},"transform":[{"filter":"datum.g=='gv'"}],"mark":{"type":"rule","color":"#8a8a8a","strokeWidth":1.2},
 "encoding":{"x":{"field":"i","type":"quantitative"},"x2":{"field":"i2"},"y":{"field":"p","type":"quantitative"},"y2":{"field":"p2"}}},
{"data":{"name":"sg"},"transform":[{"filter":"datum.g=='fv'"}],"mark":{"type":"rule","color":"#333","strokeWidth":1},
 "encoding":{"x":{"field":"i","type":"quantitative"},"x2":{"field":"i2"},"y":{"field":"p","type":"quantitative"},"y2":{"field":"p2"}}},
{"data":{"name":"sg"},"transform":[{"filter":"datum.g=='ga'"}],"mark":{"type":"rule","color":"#6cae2e","strokeWidth":3},
 "encoding":{"x":{"field":"i","type":"quantitative"},"x2":{"field":"i2"},"y":{"field":"p","type":"quantitative"},"y2":{"field":"p2"}}},
{"data":{"name":"sg"},"transform":[{"filter":"datum.g=='oa'"}],"mark":{"type":"rule","color":"#ec7a22","strokeWidth":3},
 "encoding":{"x":{"field":"i","type":"quantitative"},"x2":{"field":"i2"},"y":{"field":"p","type":"quantitative"},"y2":{"field":"p2"}}},
{"data":{"name":"hd"},"transform":[{"filter":"datum.g=='gu'"}],"mark":{"type":"point","shape":"triangle-up","filled":true,"color":"#6cae2e","size":110,"angle":4,"opacity":1},
 "encoding":{"x":{"field":"i","type":"quantitative"},"y":{"field":"p","type":"quantitative"}}},
{"data":{"name":"hd"},"transform":[{"filter":"datum.g=='gd'"}],"mark":{"type":"point","shape":"triangle-up","filled":true,"color":"#6cae2e","size":110,"angle":162,"opacity":1},
 "encoding":{"x":{"field":"i","type":"quantitative"},"y":{"field":"p","type":"quantitative"}}},
{"data":{"name":"hd"},"transform":[{"filter":"datum.g=='od'"}],"mark":{"type":"point","shape":"triangle-up","filled":true,"color":"#ec7a22","size":110,"angle":170,"opacity":1},
 "encoding":{"x":{"field":"i","type":"quantitative"},"y":{"field":"p","type":"quantitative"}}},
{"data":{"name":"hd"},"transform":[{"filter":"datum.g=='fv'"}],"mark":{"type":"point","shape":"triangle-up","filled":true,"color":"#222","size":35,"opacity":1},
 "encoding":{"x":{"field":"i","type":"quantitative"},"y":{"field":"p","type":"quantitative"}}},
{"data":{"name":"tri"},"transform":[{"filter":"datum.g=='dn'"}],"mark":{"type":"point","shape":"triangle-down","filled":true,"color":"#7a1c1c","size":55,"opacity":1},
 "encoding":{"x":{"field":"i","type":"quantitative"},"y":{"field":"p","type":"quantitative"}}},
{"data":{"name":"tri"},"transform":[{"filter":"datum.g=='do'"}],"mark":{"type":"point","shape":"triangle-down","filled":true,"color":"#d8641c","size":55,"opacity":1},
 "encoding":{"x":{"field":"i","type":"quantitative"},"y":{"field":"p","type":"quantitative"}}},
{"data":{"name":"tri"},"transform":[{"filter":"datum.g=='up'"}],"mark":{"type":"point","shape":"triangle-up","filled":true,"color":"#1f6e24","size":55,"opacity":1},
 "encoding":{"x":{"field":"i","type":"quantitative"},"y":{"field":"p","type":"quantitative"}}},
{"data":{"name":"an"},"transform":[{"filter":"datum.g=='gc'"}],"mark":{"type":"point","shape":"circle","filled":true,"fill":"white","stroke":"#3c9c3c","strokeWidth":1,"size":576,"opacity":1},
 "encoding":{"x":{"field":"i","type":"quantitative"},"y":{"field":"p","type":"quantitative"}}},
{"data":{"name":"an"},"transform":[{"filter":"datum.g=='lg'"}],"mark":{"type":"point","shape":"circle","filled":true,"fill":"white","fillOpacity":0.6,"stroke":"#8fe07a","strokeWidth":1,"size":440,"opacity":1},
 "encoding":{"x":{"field":"i","type":"quantitative"},"y":{"field":"p","type":"quantitative"}}},
{"data":{"name":"an"},"transform":[{"filter":"datum.g=='dr'"}],"mark":{"type":"text","fontSize":25,"color":"#8b1a1a","align":"center","baseline":"middle"},
 "encoding":{"x":{"field":"i","type":"quantitative"},"y":{"field":"p","type":"quantitative"},"text":{"field":"t"}}},
{"data":{"name":"an"},"transform":[{"filter":"datum.g=='or'"}],"mark":{"type":"text","fontSize":21,"color":"#f07c24","align":"center","baseline":"middle"},
 "encoding":{"x":{"field":"i","type":"quantitative"},"y":{"field":"p","type":"quantitative"},"text":{"field":"t"}}},
{"data":{"name":"an"},"transform":[{"filter":"datum.g=='gc'"}],"mark":{"type":"text","fontSize":18,"color":"#1e8a1e","align":"center","baseline":"middle","dy":1},
 "encoding":{"x":{"field":"i","type":"quantitative"},"y":{"field":"p","type":"quantitative"},"text":{"field":"t"}}},
{"data":{"name":"an"},"transform":[{"filter":"datum.g=='lg'"}],"mark":{"type":"text","fontSize":16,"color":"#45d12a","align":"center","baseline":"middle","dy":1},
 "encoding":{"x":{"field":"i","type":"quantitative"},"y":{"field":"p","type":"quantitative"},"text":{"field":"t"}}},
{"data":{"name":"an"},"transform":[{"filter":"datum.g=='bl'"}],"mark":{"type":"text","fontSize":28,"color":"#2626d6","align":"center","baseline":"middle"},
 "encoding":{"x":{"field":"i","type":"quantitative"},"y":{"field":"p","type":"quantitative"},"text":{"field":"t"}}},
{"data":{"name":"fb"},"mark":{"type":"text","fontSize":8,"color":"#333","align":"right","baseline":"middle"},
 "encoding":{"x":{"datum":292},"y":{"field":"p","type":"quantitative"},"text":{"field":"t"}}},
{"data":{"name":"fr"},"mark":{"type":"point","shape":"M-1,-0.19H1V0.19H-1Z","filled":true,"stroke":"#666","strokeWidth":1,"size":3249,"opacity":1},
 "encoding":{"x":{"datum":314.3},"y":{"field":"p","type":"quantitative"},
  "fill":{"condition":{"test":"datum.t=='38.2%(1.30110)'","value":"#c9cff2"},"value":"#ffffff"}}},
{"data":{"name":"fr"},"mark":{"type":"text","fontSize":7.8,"color":"#222","align":"center","baseline":"middle"},
 "encoding":{"x":{"datum":314.3},"y":{"field":"p","type":"quantitative"},"text":{"field":"t"}}},
{"data":{"values":[{"p":1.2852,"t":"0.13201"}]},"mark":{"type":"point","shape":"M-1,-0.37H1V0.37H-1Z","filled":true,"fill":"white","stroke":"#999","strokeWidth":1,"size":729,"opacity":1},
 "encoding":{"x":{"datum":235},"y":{"field":"p","type":"quantitative"}}},
{"data":{"values":[{"p":1.2852,"t":"0.13201"}]},"mark":{"type":"text","fontSize":7.5,"color":"#555","align":"center","baseline":"middle"},
 "encoding":{"x":{"datum":235},"y":{"field":"p","type":"quantitative"},"text":{"field":"t"}}},
{"data":{"values":[{"i":236.9,"p":1.3504,"t":".35153"}]},"mark":{"type":"text","fontSize":8,"color":"#777","align":"left","baseline":"middle"},
 "encoding":{"x":{"field":"i","type":"quantitative"},"y":{"field":"p","type":"quantitative"},"text":{"field":"t"}}},
{"data":{"name":"ax"},"mark":{"type":"point","shape":"M-1,-0.28H1V0.28H-1Z","filled":true,"stroke":"#444","strokeWidth":1,"size":1369,"opacity":1},
 "encoding":{"x":{"datum":329.5},"y":{"field":"p","type":"quantitative"},
  "fill":{"condition":[{"test":"datum.t=='1.30316'","value":"#b7bff2"},{"test":"datum.t=='1.30048'","value":"#f4c4c4"}],"value":"#ffffff"}}},
{"data":{"name":"ax"},"mark":{"type":"text","fontSize":9.5,"color":"#222","align":"center","baseline":"middle"},
 "encoding":{"x":{"datum":329.5},"y":{"field":"p","type":"quantitative"},"text":{"field":"t"}}},
{"data":{"values":[{"i":318.5,"p":1.3038,"t":"4 vs 3"}]},"mark":{"type":"text","fontSize":10,"fontWeight":"bold","color":"#222","align":"center","baseline":"middle"},
 "encoding":{"x":{"field":"i","type":"quantitative"},"y":{"field":"p","type":"quantitative"},"text":{"field":"t"}}},
{"data":{"name":"mk"},"transform":[{"filter":"datum.g=='ok'"}],"mark":{"type":"text","font":"DejaVu Sans","fontSize":52,"color":"#9a9a9a","opacity":0.7,"align":"center","baseline":"middle","dx":3,"dy":3,"text":"✔"},
 "encoding":{"x":{"field":"i","type":"quantitative"},"y":{"field":"p","type":"quantitative"}}},
{"data":{"name":"mk"},"transform":[{"filter":"datum.g=='ok'"}],"mark":{"type":"text","font":"DejaVu Sans","fontSize":52,"color":"#35b635","align":"center","baseline":"middle","text":"✔"},
 "encoding":{"x":{"field":"i","type":"quantitative"},"y":{"field":"p","type":"quantitative"}}},
{"data":{"name":"mk"},"transform":[{"filter":"datum.g=='no'"}],"mark":{"type":"text","font":"DejaVu Sans","fontSize":44,"color":"#9a9a9a","opacity":0.7,"align":"center","baseline":"middle","dx":3,"dy":3,"text":"✘"},
 "encoding":{"x":{"field":"i","type":"quantitative"},"y":{"field":"p","type":"quantitative"}}},
{"data":{"name":"mk"},"transform":[{"filter":"datum.g=='no'"}],"mark":{"type":"text","font":"DejaVu Sans","fontSize":44,"color":"#e8201a","align":"center","baseline":"middle","text":"✘"},
 "encoding":{"x":{"field":"i","type":"quantitative"},"y":{"field":"p","type":"quantitative"}}},
{"data":{"values":[{"i":0.9,"p":1.3672,"t":"GBP/USD - 4 hour"}]},"mark":{"type":"text","fontSize":11,"fontWeight":"bold","color":"#111","align":"left","baseline":"middle"},
 "encoding":{"x":{"field":"i","type":"quantitative"},"y":{"field":"p","type":"quantitative"},"text":{"field":"t"}}},
{"data":{"values":[{"i":0.9,"p":1.3647,"t":"Wave Analysis"}]},"mark":{"type":"text","fontSize":9,"color":"#444","align":"left","baseline":"middle"},
 "encoding":{"x":{"field":"i","type":"quantitative"},"y":{"field":"p","type":"quantitative"},"text":{"field":"t"}}}
]
},
{
"width":1153,"height":50,
"layer":[
{"data":{"values":[{"i":56},{"i":182},{"i":314}]},"mark":{"type":"rule","color":"#555","strokeDash":[3,3],"strokeWidth":1},
 "encoding":{"x":{"field":"i","type":"quantitative","scale":{"domain":[0,323.27],"nice":false,"zero":false},"axis":null}}},
{"data":{"name":"k"},"transform":[{"window":[{"op":"lag","field":"a","as":"pa"}],"sort":[{"field":"i","order":"ascending"}]}],
 "mark":{"type":"bar","size":2.5},
 "encoding":{"x":{"field":"i","type":"quantitative"},
  "y":{"field":"a","type":"quantitative","scale":{"domain":[-0.0205,0.0225],"nice":false,"zero":false},
   "axis":{"title":null,"orient":"right","grid":false,"tickCount":20,"labelOverlap":false,"labelPadding":1,"labelFontSize":9.5,
    "labelExpr":"abs(datum.value)<1e-9 ? '0.00000' : ''","tickSize":2}},
  "y2":{"datum":0},
  "color":{"condition":{"test":"datum.a > datum.pa","value":"#3030d8"},"value":"#a82a2a"}}},
{"mark":{"type":"rule","color":"#333","strokeDash":[3,3],"strokeWidth":1},"encoding":{"y":{"datum":0}}},
{"data":{"values":[{"i":0.9,"a":0.0168,"t":"Awesome Osc(34,5)"}]},"mark":{"type":"text","fontSize":9,"fontWeight":"bold","color":"#111","align":"left","baseline":"middle"},
 "encoding":{"x":{"field":"i","type":"quantitative"},"y":{"field":"a","type":"quantitative"},"text":{"field":"t"}}},
{"data":{"values":[{"a":-0.01827,"t":"-0.01827"}]},"mark":{"type":"point","shape":"M-1,-0.26H1V0.26H-1Z","filled":true,"fill":"white","stroke":"#444","strokeWidth":1,"size":1444,"opacity":1},
 "encoding":{"x":{"datum":329.5},"y":{"field":"a","type":"quantitative"}}},
{"data":{"values":[{"a":-0.01827,"t":"-0.01827"}]},"mark":{"type":"text","fontSize":9.5,"color":"#222","align":"center","baseline":"middle"},
 "encoding":{"x":{"datum":329.5},"y":{"field":"a","type":"quantitative"},"text":{"field":"t"}}}
]
}
]
}
